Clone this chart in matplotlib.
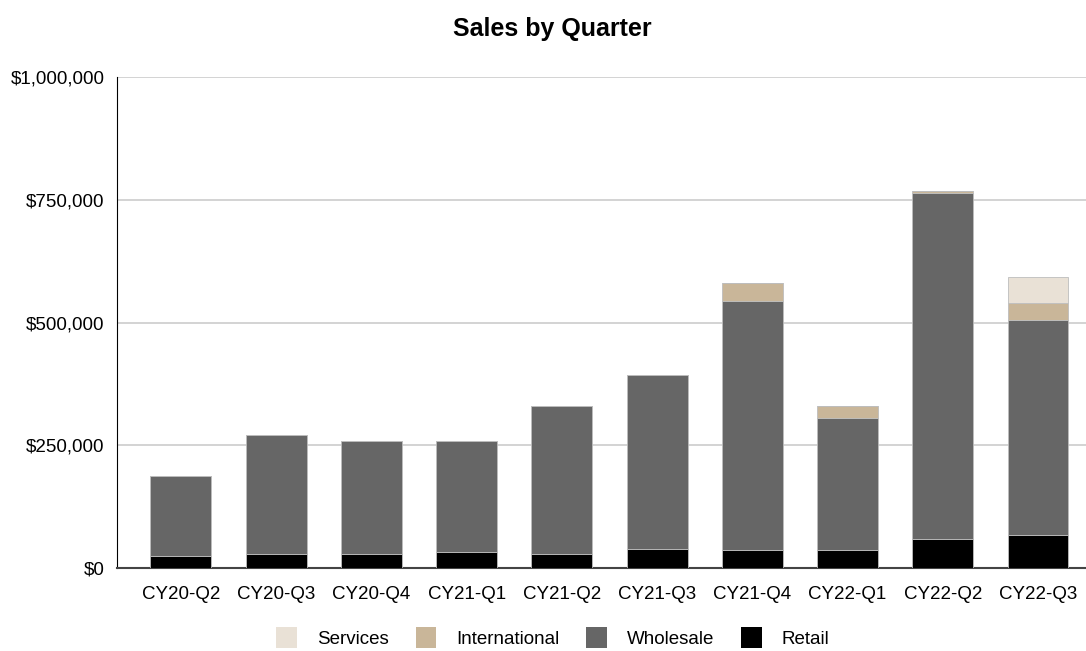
import matplotlib.pyplot as plt
from matplotlib.patches import Patch
from matplotlib.ticker import FuncFormatter
import numpy as np

plt.rcParams['font.family'] = ['Liberation Sans', 'DejaVu Sans']

quarters = ['CY20-Q2', 'CY20-Q3', 'CY20-Q4', 'CY21-Q1', 'CY21-Q2',
            'CY21-Q3', 'CY21-Q4', 'CY22-Q1', 'CY22-Q2', 'CY22-Q3']
retail = [24400, 28000, 28000, 32000, 28000, 39500, 36000, 36000, 60000, 67000]
wholesale = [163600, 242000, 230600, 226700, 301000, 353500, 508500, 269500, 704500, 438000]
international = [0, 0, 0, 0, 0, 0, 35500, 24500, 3500, 35000]
services = [0, 0, 0, 0, 0, 0, 0, 0, 0, 52000]

series = [('Retail', retail, '#000000'),
          ('Wholesale', wholesale, '#666666'),
          ('International', international, '#c9b699'),
          ('Services', services, '#e9e1d6')]

fig = plt.figure(figsize=(10.86, 6.51), dpi=100)
ax = fig.add_axes([0.1077, 0.1275, 0.8923, 0.7542])

x = np.arange(len(quarters))
bottom = np.zeros(len(quarters))
for name, vals, col in series:
    ax.bar(x, vals, 0.64, bottom=bottom, color=col, edgecolor='#bdbdbd',
           linewidth=0.6, zorder=3)
    bottom += np.array(vals)

ax.set_xlim(-0.672, 9.504)
ax.set_ylim(0, 1000000)
ax.set_yticks([0, 250000, 500000, 750000, 1000000])
ax.yaxis.set_major_formatter(FuncFormatter(lambda v, p: '${:,.0f}'.format(v)))
ax.set_xticks(x)
ax.set_xticklabels(quarters)
ax.tick_params(length=0, labelsize=13.5, colors='#000000')
ax.tick_params(axis='x', pad=13)
ax.tick_params(axis='y', pad=9)
ax.grid(axis='y', color='#cccccc', linewidth=1.2, zorder=0)
ax.set_axisbelow(True)
for s in ['top', 'right']:
    ax.spines[s].set_visible(False)
ax.spines['left'].set_color('#000000')
ax.spines['bottom'].set_color('#444444')
ax.spines['bottom'].set_linewidth(1.5)

fig.text(0.509, 0.956, 'Sales by Quarter', ha='center', va='center',
         fontsize=18, fontweight='bold')

handles = [Patch(facecolor=col, edgecolor='none', label=name)
           for name, vals, col in reversed(series)]
fig.legend(handles=handles, loc='center', bbox_to_anchor=(0.509, 0.021),
           ncol=4, frameon=False, fontsize=13.5, handlelength=1.1,
           handleheight=1.3, columnspacing=1.45, handletextpad=1.05)

fig.savefig('out.png', dpi=100)
